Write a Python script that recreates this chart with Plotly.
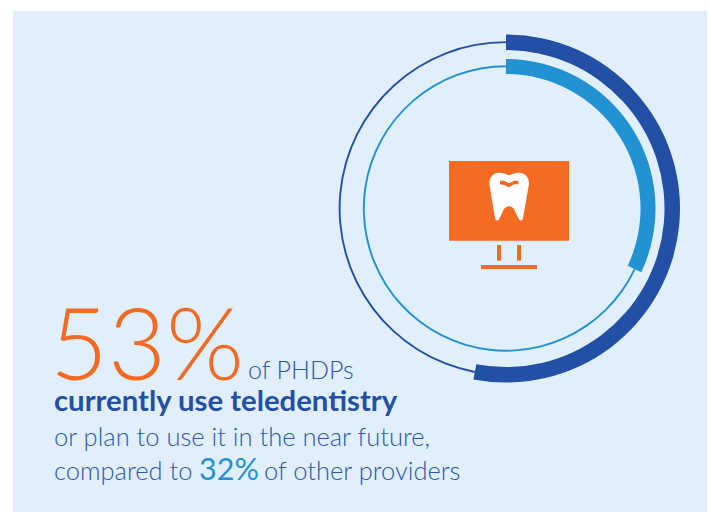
import plotly.graph_objects as go

# Share of each provider group using or planning to use teledentistry
groups = ["PHDPs", "Other providers"]
shares = [53, 32]
ring_colors = ["#2350A5", "#2292D2"]

ORANGE = "#F56A22"
DARK = "#2350A5"
LIGHT = "#2292D2"
TEXT = "#2B58AC"
PANEL = "#E0EFFB"
W, H = 710, 512
CX, CY = 506, 208.5
CLEAR = "rgba(0,0,0,0)"

# Ring geometry in pixels: thick outer, thick inner, thin line radius
ring_sizes = [(174, 158.5, 166.4), (149.5, 134.5, 142.2)]
THIN = 1.9


def arc(values, colors, outer, inner, name):
    return go.Pie(
        values=values, marker=dict(colors=colors, line=dict(width=0)),
        domain=dict(x=[(CX - outer) / W, (CX + outer) / W],
                    y=[1 - (CY + outer) / H, 1 - (CY - outer) / H]),
        hole=inner / outer, sort=False, direction="clockwise", rotation=0,
        textinfo="none", hoverinfo="skip", showlegend=False, name=name,
    )


fig = go.Figure()
for group, share, color, (outer, inner, mid) in zip(groups, shares, ring_colors, ring_sizes):
    rest = 100 - share
    fig.add_trace(arc([share, rest], [CLEAR, color], mid + THIN / 2, mid - THIN / 2, group + " rest"))
    fig.add_trace(arc([share, rest], [color, CLEAR], outer, inner, group))


def rect(x0, y0, x1, y1, color, layer="above"):
    return dict(type="rect", xref="x", yref="y", x0=x0, y0=y0, x1=x1, y1=y1,
                fillcolor=color, line_width=0, layer=layer)


TOOTH = ("M 489.3 184 C 489.3 176 494 172.7 499 172.7 C 503 172.7 506 174 509 175.3 "
         "C 512 174 515 172.7 519 172.7 C 524.5 172.7 529 176 529 184 "
         "L 523 218 C 522.6 220.5 520.5 221.5 519 219.5 L 514.5 210 "
         "C 512 205 506 205 503.5 210 L 499 219.5 C 497.5 221.5 495.5 220.5 495 218 Z")
NOTCH = ("M 500 180.7 L 504 180.7 L 509 183.2 L 514 180.7 L 518.3 180.7 L 518.3 184.3 "
         "L 514 184.3 L 509 187.2 L 504 185 L 500 184.3 Z")

shapes = [
    rect(13, 11, 707, 512, PANEL, "below"),
    rect(449, 161, 569, 240.7, ORANGE),
    rect(497, 245, 501, 260.7, ORANGE),
    rect(517, 245, 521, 260.7, ORANGE),
    rect(481, 265, 537, 269, ORANGE),
    dict(type="path", xref="x", yref="y", path=TOOTH, fillcolor="white", line_width=0),
    dict(type="path", xref="x", yref="y", path=NOTCH, fillcolor=ORANGE, line_width=0),
]


def label(x, baseline, text, size, color, weight=300):
    return dict(x=x, y=baseline + size * 0.21, xref="x", yref="y", text=text, showarrow=False,
                xanchor="left", yanchor="bottom", borderpad=0, borderwidth=0,
                font=dict(family="Lato", size=size, color=color, weight=weight))


annotations = [
    label(50, 380, "53%", 100, ORANGE, 300),
    label(248, 379, "of PHDPs", 25, TEXT),
    label(54, 411, "currently use teledentistry", 29.3, DARK, 700),
    label(54, 446, "or plan to use it in the near future,", 25.5, TEXT),
    label(54, 480, "compared to", 25.5, TEXT),
    label(199, 480, "32%", 30.5, LIGHT, 400),
    label(264, 480, "of other providers", 25.5, TEXT),
]

fig.update_layout(
    width=W, height=H, margin=dict(l=0, r=0, t=0, b=0),
    paper_bgcolor="white", plot_bgcolor=CLEAR,
    xaxis=dict(range=[0, W], visible=False, domain=[0, 1], fixedrange=True),
    yaxis=dict(range=[H, 0], visible=False, domain=[0, 1], fixedrange=True),
    shapes=shapes, annotations=annotations,
)
fig.write_html("out.html", config=dict(displayModeBar=False))
